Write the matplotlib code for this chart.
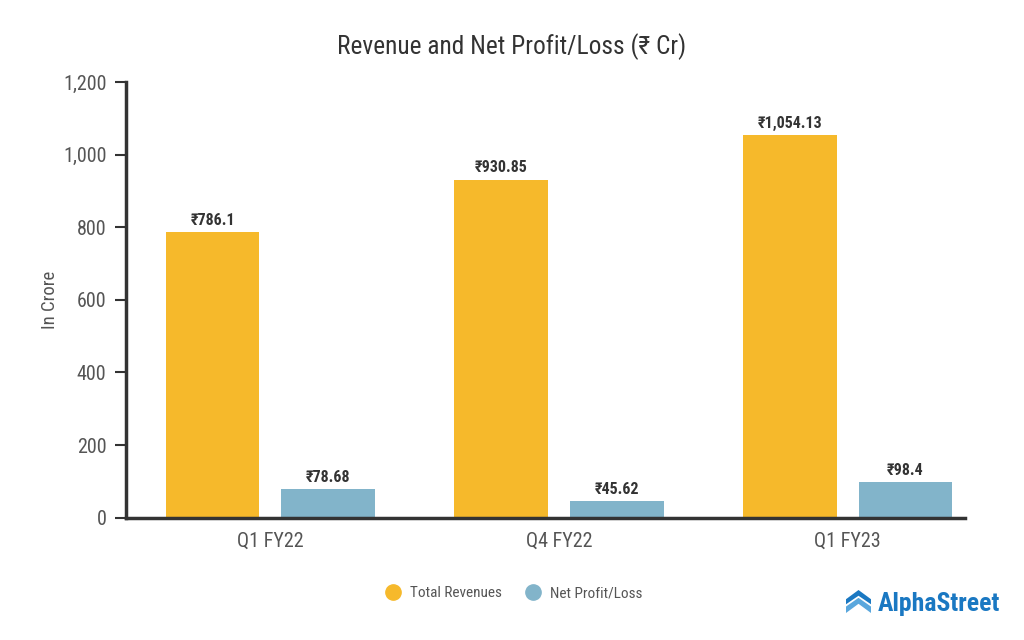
import matplotlib
matplotlib.use("Agg")
import matplotlib.pyplot as plt
from matplotlib import font_manager
from matplotlib.patches import Polygon
import numpy as np

avail = set(f.name for f in font_manager.fontManager.ttflist)
FONT = "Roboto Condensed" if "Roboto Condensed" in avail else "Roboto"
plt.rcParams["font.family"] = [FONT, "DejaVu Sans"]

categories = ["Q1 FY22", "Q4 FY22", "Q1 FY23"]
revenues = [786.1, 930.85, 1054.13]
profits = [78.68, 45.62, 98.4]
rev_labels = ["₹786.1", "₹930.85", "₹1,054.13"]
prof_labels = ["₹78.68", "₹45.62", "₹98.4"]
yticks = [0, 200, 400, 600, 800, 1000, 1200]

REV_COLOR = "#f6b92b"
PROF_COLOR = "#82b4ca"
TEXT_COLOR = "#555555"
AXIS_COLOR = "#333333"
LOGO_BLUE = "#1a78c2"

fig = plt.figure(figsize=(10.24, 6.4), dpi=100)
ax = fig.add_axes([0.123, 0.191, 0.819, 0.681])

x = np.arange(len(categories))
off = 0.2
w = 0.325
ax.bar(x - off, revenues, width=w, color=REV_COLOR)
ax.bar(x + off, profits, width=w, color=PROF_COLOR)

for i in range(len(categories)):
    ax.text(x[i] - off, revenues[i] + 12, rev_labels[i], ha="center", va="bottom",
            fontsize=11.5, fontweight="bold", color="#333333")
    ax.text(x[i] + off, profits[i] + 12, prof_labels[i], ha="center", va="bottom",
            fontsize=11.5, fontweight="bold", color="#333333")

ax.set_xlim(-0.5, 2.405)
ax.set_ylim(0, 1200)
ax.set_xticks(x)
ax.set_xticklabels(categories)
ax.set_yticks(yticks)
ax.set_yticklabels(["{:,}".format(v) for v in yticks])
ax.tick_params(axis="y", length=8, width=1.5, color=AXIS_COLOR, labelsize=14.5,
               labelcolor=TEXT_COLOR, pad=6)
ax.tick_params(axis="x", length=0, labelsize=14.5, labelcolor=TEXT_COLOR, pad=10)
for s in ["top", "right"]:
    ax.spines[s].set_visible(False)
for s in ["left", "bottom"]:
    ax.spines[s].set_color(AXIS_COLOR)
    ax.spines[s].set_linewidth(2.5)
ax.set_ylabel("In Crore", fontsize=13.5, color=TEXT_COLOR, labelpad=3)

fig.text(0.5, 0.928, "Revenue and Net Profit/Loss (₹ Cr)", ha="center", va="center",
         fontsize=18.3, color="#333333")

# legend
fig.legend(handles=[
    plt.Line2D([], [], marker="o", linestyle="", markersize=11, color=REV_COLOR, label="Total Revenues"),
    plt.Line2D([], [], marker="o", linestyle="", markersize=11, color=PROF_COLOR, label="Net Profit/Loss")],
    loc="center", bbox_to_anchor=(0.498, 0.073), ncol=2, frameon=False, fontsize=11,
    labelcolor=TEXT_COLOR, handletextpad=0.15, columnspacing=1.0)

# logo
fig.text(0.977, 0.057, "AlphaStreet", ha="right", va="center", fontsize=18.5,
         fontweight="bold", color=LOGO_BLUE)
lax = fig.add_axes([846 / 1024, 1 - 613 / 640, 25 / 1024, 23 / 640])
lax.set_xlim(0, 1)
lax.set_ylim(0, 1)
lax.axis("off")
lax.add_patch(Polygon([(0, 0.6), (0.5, 1.0), (1, 0.6), (1, 0.38), (0.5, 0.75), (0, 0.38)],
                      closed=True, color=LOGO_BLUE, lw=0))
lax.add_patch(Polygon([(0, 0.28), (0.5, 0.66), (1, 0.28), (1, 0.0), (0.5, 0.4), (0, 0.0)],
                      closed=True, color="#5aa7dd", lw=0))

fig.savefig("out.png", dpi=100)
